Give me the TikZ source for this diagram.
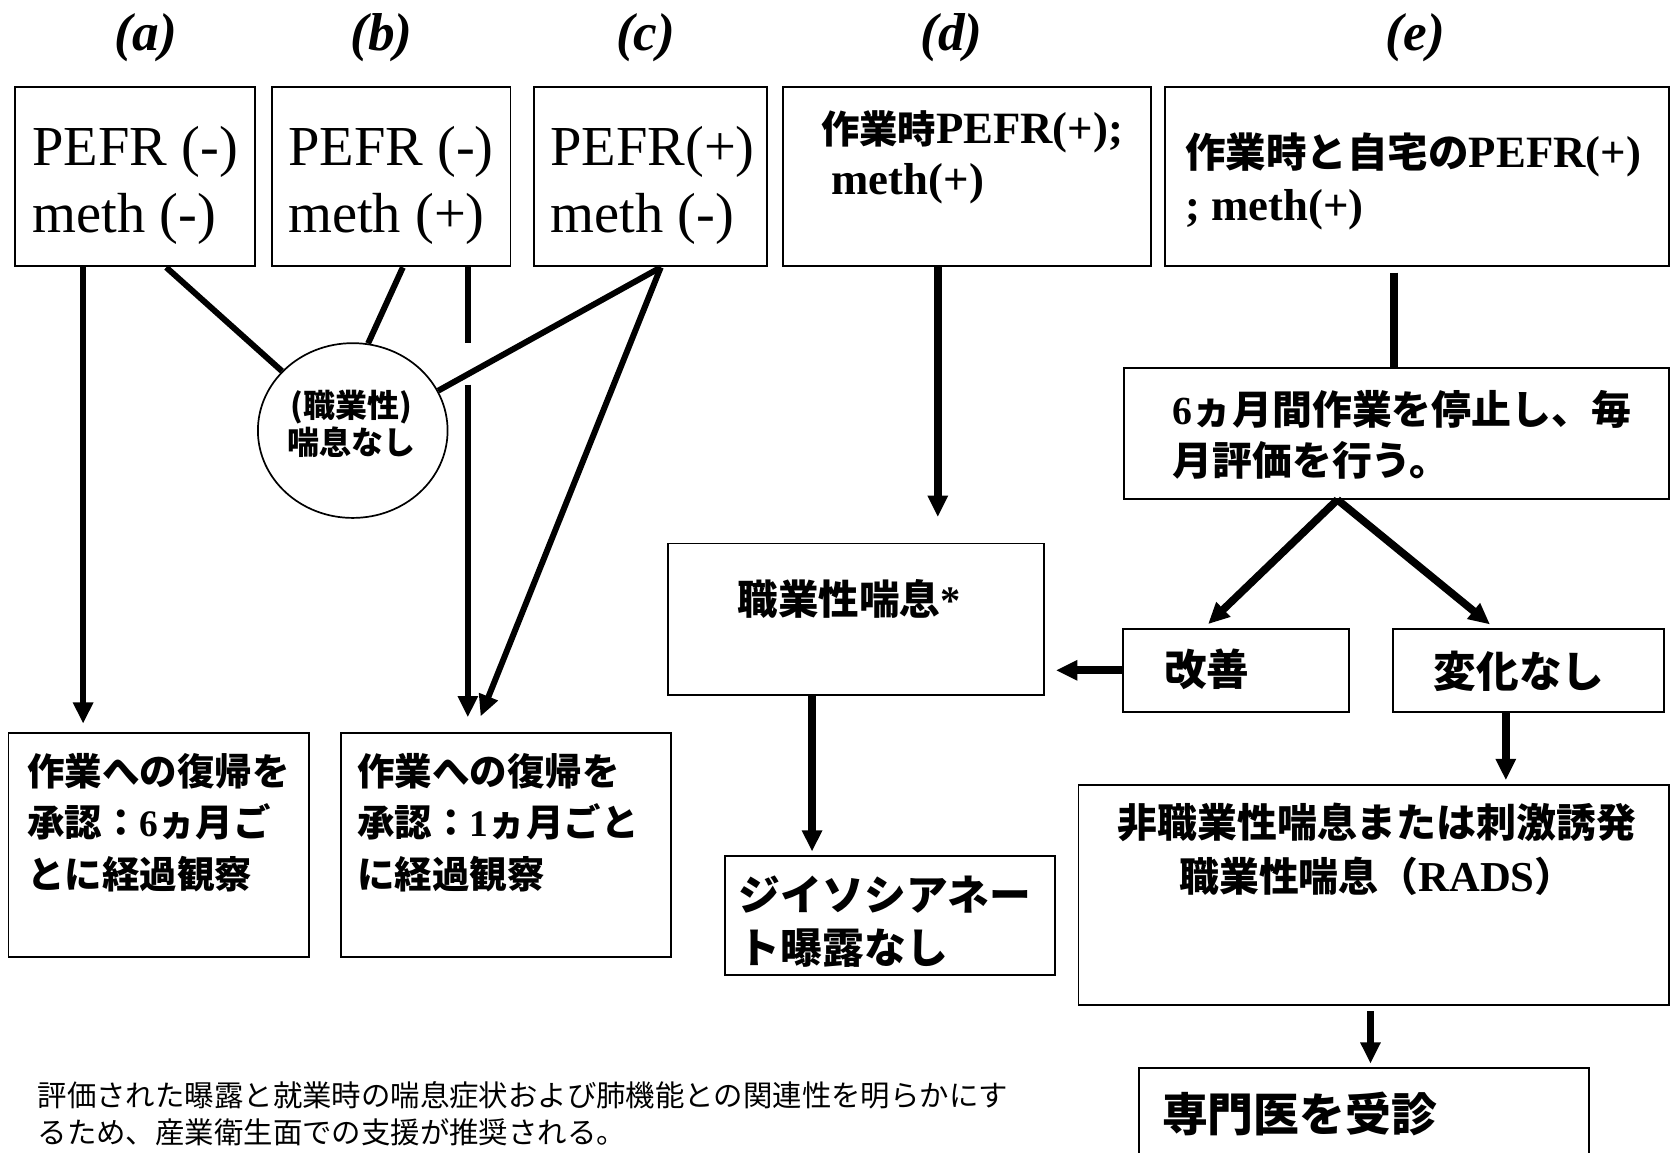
\documentclass[tikz,border=0pt]{standalone}
\usepackage{fontspec}
\setmainfont{Liberation Serif}
\newfontfamily\jp{Noto Sans CJK JP}
\usetikzlibrary{arrows.meta,shapes.geometric,fit}
\newcommand\J[1]{{\jp #1}}
\newcommand\E[1]{{\rmfamily #1}}
\newcommand\Fs[2]{\fontsize{#1}{#2}\selectfont}
\begin{document}
\begin{tikzpicture}[x=0.5pt,y=-0.5pt,
  box/.style={draw, line width=0.9pt, inner sep=0pt, rectangle},
  txt/.style={inner sep=0pt, anchor=west, align=left},
  lbl/.style={inner sep=0pt, font=\bfseries\itshape\Fs{25}{25}},
  thinln/.style={line width=2.8pt},
  thickln/.style={line width=3.6pt},
  tip/.style={-{Triangle[length=10pt,width=9pt]}},
]
\useasboundingbox (0,0) rectangle (1568,1081);
\fill[white] (0,0) rectangle (1568,1081);

% column labels
\node[lbl] (la) at (137,35) {(a)};
\node[lbl] (lb) at (358,35) {(b)};
\node[lbl] (lc) at (606,35) {(c)};
\node[lbl] (ld) at (893,35) {(d)};
\node[lbl] (le) at (1328,35) {(e)};

% boxes
\node[box, fit={(14,82) (239,250)}] (a) {};
\node[box, fit={(255,82) (479,250)}] (b) {};
\node[box, fit={(501,82) (720,250)}] (c) {};
\node[box, fit={(735,82) (1080,250)}] (d) {};
\node[box, fit={(1093,82) (1566,250)}] (e) {};
\node[box, fit={(8,688) (290,898)}] (ra) {};
\node[box, fit={(320,688) (630,898)}] (rb) {};
\node[box, fit={(627,510) (980,652)}] (oa) {};
\node[box, fit={(680,803) (990,915)}] (ne) {};
\node[box, fit={(1055,345) (1566,468)}] (st) {};
\node[box, fit={(1054,590) (1266,668)}] (im) {};
\node[box, fit={(1307,590) (1561,668)}] (nc) {};
\node[box, fit={(1012,737) (1566,943)}] (nn) {};
\node[box, fit={(1069,1002) (1491,1100)}] (sp) {};

\node[draw, ellipse, line width=0.8pt, minimum width=89pt, minimum height=82pt,
      inner sep=0pt] (el) at (331,404) {};
\node[inner sep=0pt, align=center, font=\bfseries\jp\Fs{15}{17.5}] (tel) at (330,398)
      {(職業性)\\喘息なし};

% texts
\node[txt, font=\Fs{26.5}{31}] (ta) at (30,174) {PEFR (-)\\meth (-)};
\node[txt, font=\Fs{26.5}{31}] (tb) at (270,174) {PEFR (-)\\meth (+)};
\node[txt, font=\Fs{26.5}{31}] (tc) at (516,174) {PEFR(+)\\meth (-)};
\node[txt, font=\bfseries\Fs{21}{24}] (td) at (770,148)
  {\J{\Fs{18}{24}作業時}PEFR(+);\\\hspace*{5pt}meth(+)};
\node[txt, font=\bfseries\Fs{21}{25}] (te) at (1112,170)
  {\J{\Fs{19}{25}作業時と自宅の}PEFR(+)\\; meth(+)};
\node[txt, font=\bfseries\jp\Fs{17.6}{24}] (tra) at (25,772)
  {作業への復帰を\\承認：\E{6}ヵ月ご\\とに経過観察};
\node[txt, font=\bfseries\jp\Fs{17.6}{24}] (trb) at (335,772)
  {作業への復帰を\\承認：\E{1}ヵ月ごと\\に経過観察};
\node[txt, font=\bfseries\jp\Fs{19}{24}] (toa) at (692,562) {職業性喘息\E{*}};
\node[txt, font=\bfseries\jp\Fs{19.6}{25}] (tne) at (693,865) {ジイソシアネー\\ト曝露なし};
\node[txt, font=\bfseries\jp\Fs{18.7}{23.5}] (tst) at (1100,408)
  {\E{6}ヵ月間作業を停止し、毎\\月評価を行う。};
\node[txt, font=\bfseries\jp\Fs{20}{24}] (tim) at (1092,628) {改善};
\node[txt, font=\bfseries\jp\Fs{20}{24}] (tnc) at (1345,630) {変化なし};
\node[inner sep=0pt, align=center, font=\bfseries\jp\Fs{18.7}{25}] (tnn) at (1292,797)
  {非職業性喘息または刺激誘発\\職業性喘息（\E{\Fs{20}{25}RADS}）};
\node[txt, font=\bfseries\jp\Fs{21.5}{26}] (tsp) at (1090,1045) {専門医を受診};
\node[txt, font=\jp\Fs{13.8}{17}] (fn) at (35,1045)
  {評価された曝露と就業時の喘息症状および肺機能との関連性を明らかにす\\るため、産業衛生面での支援が推奨される。};

% helper coordinates
\coordinate (xa) at (78,0);
\coordinate (xa2) at (156,0);
\coordinate (xb) at (378,0);
\coordinate (xb2) at (439,0);
\coordinate (xc) at (620,0);
\coordinate (xc3) at (445,0);
\coordinate (gap1) at (439,322);
\coordinate (gap2) at (439,361);
\coordinate (xd) at (880,0);
\coordinate (xo) at (762,0);
\coordinate (xe) at (1308,0);
\coordinate (xs) at (1255,0);
\coordinate (xim) at (1130,0);
\coordinate (xnc) at (1402,0);
\coordinate (xn) at (1413,0);
\coordinate (xp) at (1286,0);

% connectors left
\draw[thinln, tip, shorten >=4pt] (a.south -| xa) -- (ra.north -| xa);
\draw[thinln] (a.south -| xa2) -- (el.140);
\draw[thinln] (b.south -| xb) -- (el.80);
\draw[thinln] (b.south -| xb2) -- (gap1);
\draw[thinln, tip, shorten >=7pt] (gap2) -- (rb.north -| xb2);
\draw[thinln] (c.south -| xc) -- (el.25);
\draw[thinln, tip, shorten >=8pt] (c.south -| xc) -- (rb.north -| xc3);

% connectors right
\draw[thickln, tip, shorten >=12pt] (d.south -| xd) -- (oa.north -| xd);
\draw[thickln, tip, shorten >=1.5pt] (oa.south -| xo) -- (ne.north -| xo);
\draw[thickln, shorten <=2.5pt] (e.south -| xe) -- (st.north -| xe);
\draw[thickln, tip, shorten >=2.5pt] (st.south -| xs) -- (im.north -| xim);
\draw[thickln, tip, shorten >=2.5pt] (st.south -| xs) -- (nc.north -| xnc);
\draw[thickln, tip, shorten >=5pt] (im.west) -- (oa.east |- im.west);
\draw[thickln, tip, shorten >=2pt] (nc.south -| xn) -- (nn.north -| xn);
\draw[thickln, tip, shorten <=2.5pt, shorten >=1.5pt] (nn.south -| xp) -- (sp.north -| xp);
\end{tikzpicture}
\end{document}
